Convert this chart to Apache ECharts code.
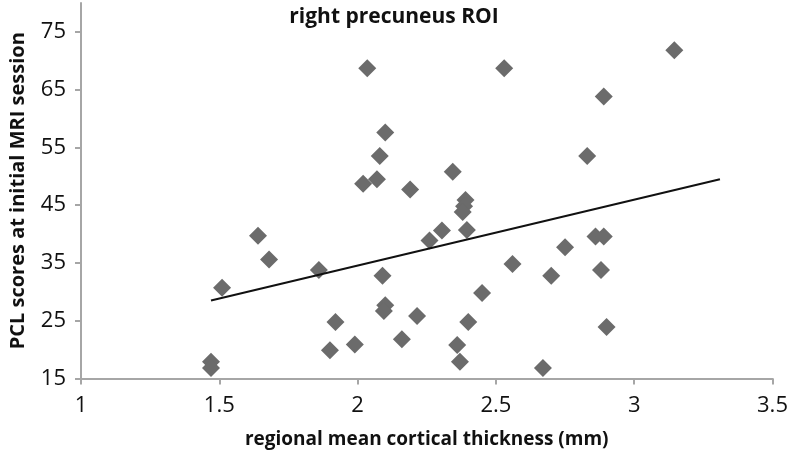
<!DOCTYPE html>
<html><head><meta charset="utf-8">
<script src="https://cdn.jsdelivr.net/npm/echarts@6/dist/echarts.min.js"></script>
<style>html,body{margin:0;padding:0;background:#fff}#c{width:792px;height:458px}</style>
</head><body><div id="c"></div>
<script>
var thickness = [1.47,1.47,1.51,1.64,1.68,1.86,1.92,1.90,1.99,2.02,2.035,2.07,2.08,2.10,2.09,2.10,2.095,2.16,2.19,2.215,2.26,2.305,2.344,2.36,2.37,2.39,2.385,2.38,2.395,2.40,2.45,2.53,2.56,2.67,2.70,2.75,2.83,2.86,2.89,2.88,2.89,2.90,3.145];
var pclScores = [17.9,16.8,30.7,39.7,35.6,33.8,24.8,19.9,20.9,48.7,68.7,49.5,53.5,57.6,32.8,27.7,26.7,21.8,47.7,25.8,38.9,40.6,50.8,20.8,17.9,45.9,44.8,43.8,40.7,24.8,29.8,68.7,34.8,16.8,32.8,37.7,53.5,39.6,39.6,33.8,63.8,23.9,71.8];
var trendX = [1.47, 3.31];
var trendY = [28.5, 49.5];
var xTicks = [1, 1.5, 2, 2.5, 3, 3.5];
var yTicks = [15, 25, 35, 45, 55, 65, 75];

var points = thickness.map(function(x, i){ return [x, pclScores[i]]; });
var trend = trendX.map(function(x, i){ return [x, trendY[i]]; });
var font = "'Open Sans', 'Liberation Sans', sans-serif";
var chart = echarts.init(document.getElementById('c'), null, {renderer: 'canvas'});
chart.setOption({
  animation: false,
  backgroundColor: '#fff',
  title: {
    text: 'right precuneus ROI', left: 389, top: 2, textAlign: 'center',
    textStyle: {fontFamily: font, fontSize: 21, fontWeight: 'bold', color: '#111'}
  },
  grid: {left: 79, right: 19.5, top: 3, bottom: 79.5, containLabel: false},
  xAxis: {
    type: 'value', min: 1, max: 3.5, interval: 0.5,
    name: 'regional mean cortical thickness (mm)', nameLocation: 'middle', nameGap: 52,
    nameTextStyle: {fontFamily: font, fontSize: 19, fontWeight: 'bold', color: '#111'},
    axisLine: {show: true, lineStyle: {color: '#a6a6a6', width: 2}},
    axisTick: {show: true, length: 6, lineStyle: {color: '#a6a6a6', width: 2}},
    axisLabel: {fontFamily: font, fontSize: 22, color: '#111', margin: 16,
      formatter: function(v){ return xTicks.indexOf(v) >= 0 ? String(v) : ''; }},
    splitLine: {show: false}
  },
  yAxis: {
    type: 'value', min: 15, max: 80, interval: 10,
    name: 'PCL scores at initial MRI session', nameLocation: 'middle', nameGap: 53,
    nameTextStyle: {fontFamily: font, fontSize: 20, fontWeight: 'bold', color: '#111'},
    axisLine: {show: true, lineStyle: {color: '#a6a6a6', width: 2}},
    axisTick: {show: true, length: 6, lineStyle: {color: '#a6a6a6', width: 2}},
    axisLabel: {fontFamily: font, fontSize: 22, color: '#111', margin: 15, showMaxLabel: false,
      formatter: function(v){ return yTicks.indexOf(v) >= 0 ? String(v) : ''; }},
    splitLine: {show: false}
  },
  series: [
    {
      type: 'line', data: trend, symbol: 'none', silent: true, z: 3,
      lineStyle: {color: '#111', width: 2}
    },
    {
      type: 'scatter', data: points, symbol: 'diamond', symbolSize: 18, z: 2,
      itemStyle: {color: '#6b6b6b', opacity: 1}
    }
  ]
});
</script></body></html>
